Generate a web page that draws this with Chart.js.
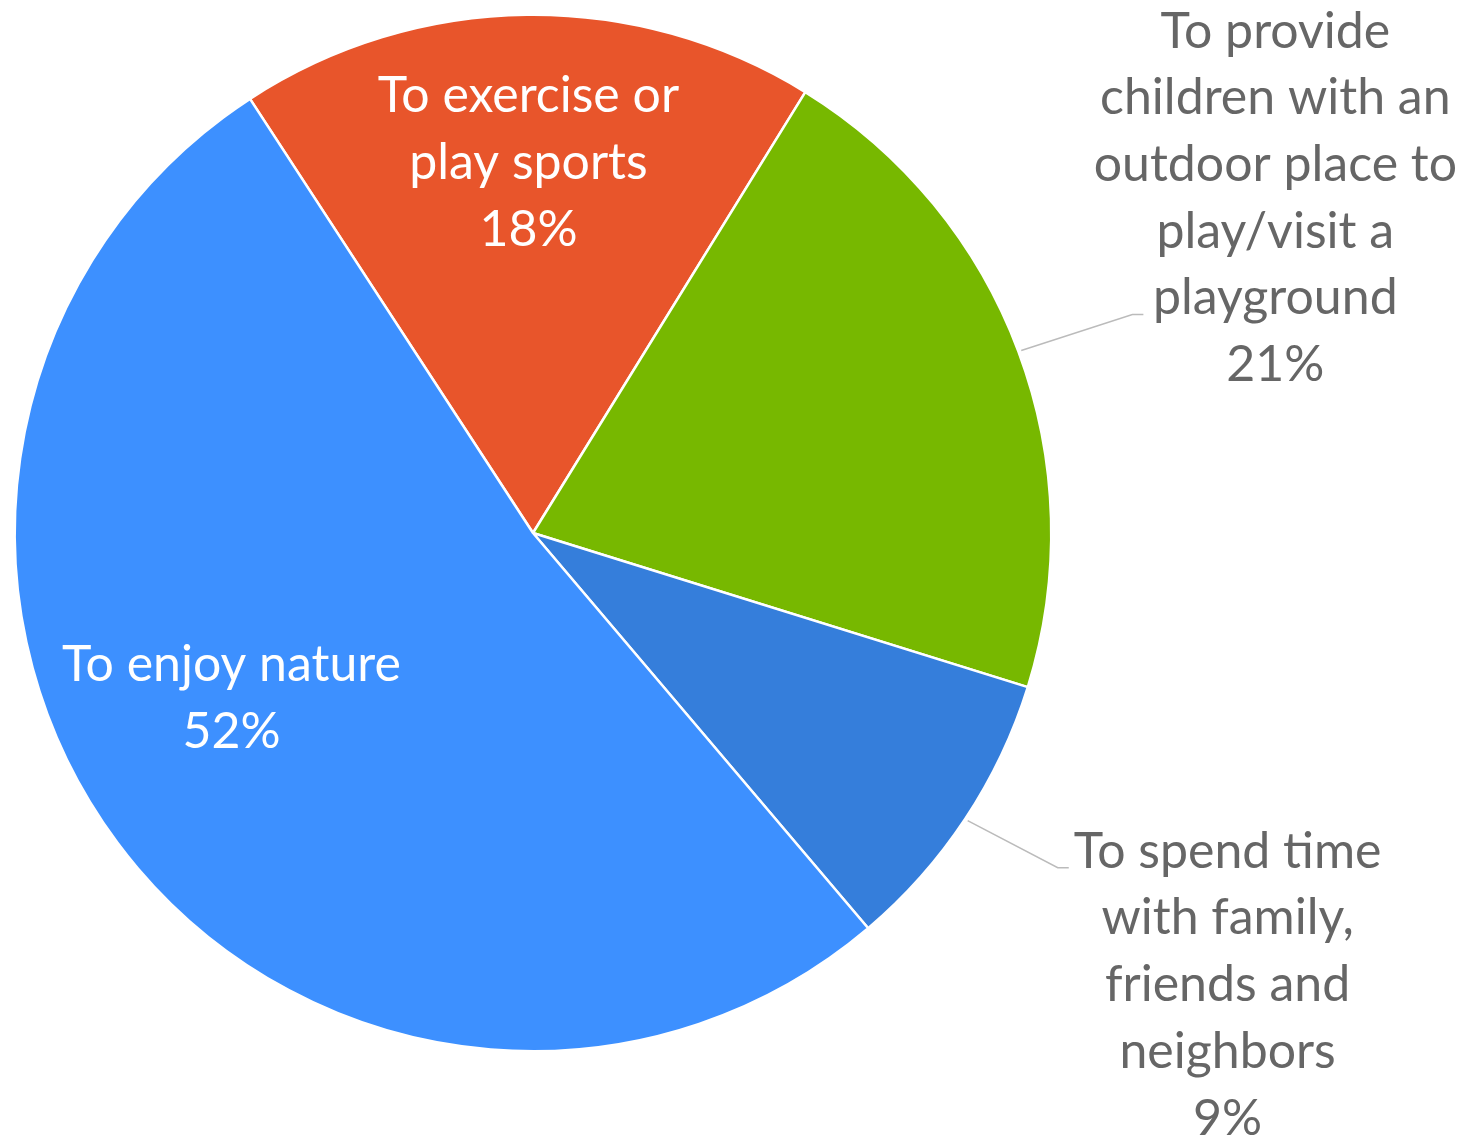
<!DOCTYPE html>
<html>
<head>
<meta charset="utf-8">
<script src="https://cdn.jsdelivr.net/npm/chart.js@4/dist/chart.umd.min.js"></script>
<style>
  html, body { margin: 0; padding: 0; background: #ffffff; }
  #wrap { width: 1464px; height: 1142px; position: relative; }
</style>
</head>
<body>
<div id="wrap"><canvas id="c" width="1464" height="1142"></canvas></div>
<script>
// ---- data ----
const categories = [
  "To exercise or play sports",
  "To provide children with an outdoor place to play/visit a playground",
  "To spend time with family, friends and neighbors",
  "To enjoy nature"
];
const shares = [18, 21, 9, 52];
const labelLines = [
  ["To exercise or", "play sports"],
  ["To provide", "children with an", "outdoor place to", "play/visit a", "playground"],
  ["To spend time", "with family,", "friends and", "neighbors"],
  ["To enjoy nature"]
];
const sliceColors = ["#E8552B", "#77B800", "#357EDB", "#3D90FF"];

// ---- label layout (styling, not data) ----
const FONT_FAMILY = "Lato, 'Open Sans', sans-serif";
const FONT_SIZE = 50;
const LINE_H = 66.7;
const CAP = 35;
const labelLayout = [
  { inside: true, da: 0, dist: 0.717 },
  { inside: false, da: 0.8, dist: 1.251, anchorLine: 4 },
  { inside: false, da: -1.5, dist: 1.219, anchorLine: 0 },
  { inside: true, da: 8.2, dist: 0.662 }
];

const labelPlugin = {
  id: 'pieLabels',
  afterDatasetsDraw(chart) {
    const ctx = chart.ctx;
    const meta = chart.getDatasetMeta(0);
    ctx.save();
    ctx.font = FONT_SIZE + "px " + FONT_FAMILY;
    ctx.textBaseline = 'alphabetic';
    ctx.textAlign = 'center';
    meta.data.forEach((arc, i) => {
      const p = arc.getProps(['x', 'y', 'startAngle', 'endAngle', 'outerRadius'], true);
      const mid = (p.startAngle + p.endAngle) / 2;
      const lay = labelLayout[i];
      const lines = labelLines[i].concat([shares[i] + '%']);
      const a = mid + lay.da * Math.PI / 180;
      if (lay.inside) {
        const cx = p.x + Math.cos(a) * p.outerRadius * lay.dist;
        const cy = p.y + Math.sin(a) * p.outerRadius * lay.dist;
        const first = cy - (lines.length - 1) * LINE_H / 2 + CAP / 2;
        ctx.fillStyle = '#ffffff';
        lines.forEach((t, k) => ctx.fillText(t, cx, first + k * LINE_H));
      } else {
        const sx = p.x + Math.cos(mid) * (p.outerRadius + 3);
        const sy = p.y + Math.sin(mid) * (p.outerRadius + 3);
        const ex = p.x + Math.cos(a) * p.outerRadius * lay.dist;
        const ey = p.y + Math.sin(a) * p.outerRadius * lay.dist;
        ctx.strokeStyle = '#BBBBBB';
        ctx.lineWidth = 1.5;
        ctx.beginPath();
        ctx.moveTo(sx, sy);
        ctx.lineTo(ex - 11, ey);
        ctx.lineTo(ex, ey);
        ctx.stroke();
        let maxW = 0;
        lines.forEach(t => { maxW = Math.max(maxW, ctx.measureText(t).width); });
        let cx = ex + 5 + maxW / 2;
        cx = Math.min(cx, chart.width - 7 - maxW / 2);
        const first = ey - lay.anchorLine * LINE_H;
        ctx.fillStyle = '#666666';
        lines.forEach((t, k) => ctx.fillText(t, cx, first + k * LINE_H));
      }
    });
    ctx.restore();
  }
};

new Chart(document.getElementById('c'), {
  type: 'pie',
  data: {
    labels: categories,
    datasets: [{
      data: shares,
      backgroundColor: sliceColors,
      borderColor: '#ffffff',
      borderWidth: 2.5
    }]
  },
  options: {
    responsive: false,
    animation: false,
    rotation: -33.1,
    layout: { padding: { left: 13.5, top: 13.5, right: 411.5, bottom: 89.5 } },
    plugins: { legend: { display: false }, tooltip: { enabled: false } }
  },
  plugins: [labelPlugin]
});
</script>
</body>
</html>
